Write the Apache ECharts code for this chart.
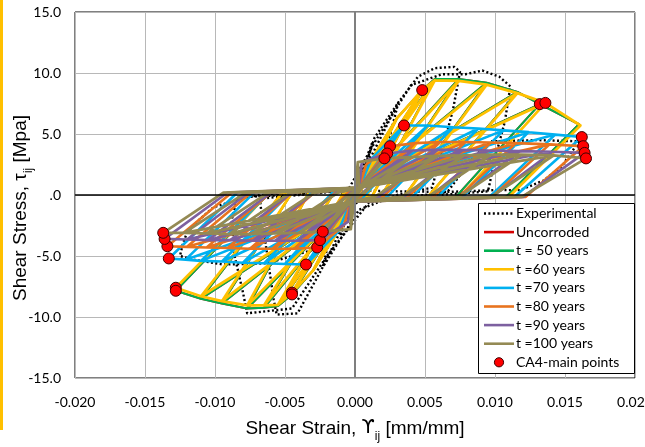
<!DOCTYPE html>
<html>
<head>
<meta charset="utf-8">
<script src="https://cdn.jsdelivr.net/npm/echarts@6/dist/echarts.min.js"></script>
<style>
  html, body { margin: 0; padding: 0; background: #fff; }
  #chart { width: 645px; height: 447px; }
</style>
</head>
<body>
<div id="chart"></div>
<script>
// ---- Axis ticks ----
const strainTicks = [-0.020, -0.015, -0.010, -0.005, 0.000, 0.005, 0.010, 0.015, 0.020];
const stressTicks = [-15, -10, -5, 0, 5, 10, 15];

// ---- Experimental response (strain, stress) ----
const expStrain = [0, 0.0004, 0.0012, 0.0006, -0.0002, -0.0010, -0.0004, 0.0002, 0.0014, 0.0031, 0.0022, 0.0010,
  -0.0002, -0.0023, -0.0015, -0.0002, 0.0010, 0.0031, 0.0045, 0.0057, 0.0071, 0.0075, 0.0070, 0.0062, 0.0055,
  0.0030, 0.0003, -0.0023, -0.0041, -0.0056, -0.0058, -0.0062, -0.0066, -0.0068, -0.0040, -0.0005, 0.0015,
  0.0040, 0.0062, 0.0079, 0.0091, 0.0103, 0.0111, 0.0107, 0.0100, 0.0095, 0.0060, 0.0010, -0.0020, -0.0045,
  -0.0077, -0.0080, -0.0086, -0.0088, -0.0084, -0.0050, -0.0005, 0.0030, 0.0066, 0.0084, 0.0097, 0.0130,
  0.0160, 0.0148, 0.0135, 0.0118, 0.0099, 0.0066, 0.0030, -0.0005, -0.0030, -0.0063, -0.0094, -0.0115,
  -0.0125, -0.0123, -0.0120, -0.0111, -0.0101, -0.0077, -0.0060, -0.0020, 0];
const expStress = [0, 1.8, 4.2, 1.0, -0.6, -3.2, -0.8, 0.6, 4.7, 7.6, 3.5, 0.4,
  -1.0, -5.9, -2.0, 0.3, 2.8, 7.6, 9.7, 10.4, 10.5, 10.1, 7.0, 3.5, 0.6,
  0.0, -1.2, -5.9, -9.7, -9.8, -8.6, -5.5, -2.2, -0.3, 0.0, 0.4, 4.5,
  9.0, 9.9, 9.9, 10.2, 9.7, 8.9, 6.0, 3.0, 0.3, 0.0, -0.6, -5.0, -9.3,
  -9.7, -8.0, -5.0, -2.0, -0.2, 0.0, 0.4, 0.3, 0.25, 3.0, 4.4, 4.5,
  4.4, 2.4, 1.2, 0.4, 0.4, 0.25, -0.3, -0.5, -4.5, -5.6, -5.7, -5.3,
  -5.0, -4.0, -3.1, -2.0, -1.0, -0.15, 0.1, 0.3, 0];

// ---- Model cycles: peak strain/stress per cycle and residual strain after unloading ----
// t = 50 years
const t50PosX = [0.0015, 0.0030, 0.0048, 0.0057, 0.0074, 0.0094, 0.0116, 0.0132, 0.0160];
const t50PosY = [3.5, 6.3, 8.6, 9.5, 9.5, 9.2, 8.45, 7.45, 5.8];
const t50PosRes = [0, 0.0002, 0.0008, 0.0012, 0.0018, 0.0035, 0.0052, 0.0072, 0.0108];
const t50NegX = [-0.0015, -0.0030, -0.0045, -0.0055, -0.0065, -0.0077, -0.0095, -0.0110, -0.0128];
const t50NegY = [-3.5, -6.2, -8.15, -9.1, -9.25, -9.3, -8.9, -8.5, -7.85];
const t50NegRes = [0, -0.0001, -0.0003, -0.0008, -0.0015, -0.0033, -0.0045, -0.0052, -0.0061];
// t = 60 years
const t60PosX = [0.0015, 0.0030, 0.0048, 0.0057, 0.0074, 0.0094, 0.0116, 0.0136, 0.0161];
const t60PosY = [3.5, 6.3, 8.6, 9.4, 9.35, 9.05, 8.35, 7.55, 5.7];
const t60PosRes = [0, 0.0002, 0.0008, 0.0012, 0.0018, 0.0035, 0.0052, 0.0075, 0.0110];
const t60NegX = [-0.0015, -0.0030, -0.0045, -0.0055, -0.0065, -0.0077, -0.0095, -0.0110, -0.0128];
const t60NegY = [-3.5, -6.2, -8.0, -9.0, -9.05, -9.05, -8.7, -8.3, -7.6];
const t60NegRes = [0, -0.0001, -0.0003, -0.0008, -0.0015, -0.0033, -0.0045, -0.0052, -0.0061];
// t = 70 years
const t70PosX = [0.0012, 0.0035, 0.0052, 0.0070, 0.0088, 0.0106, 0.0124, 0.0143, 0.0162];
const t70PosY = [3.0, 5.7, 5.7, 5.55, 5.45, 5.3, 5.15, 4.95, 4.75];
const t70PosRes = [0, 0, 0.0006, 0.0023, 0.0041, 0.0059, 0.0077, 0.0096, 0.0114];
const t70NegX = [-0.0012, -0.0035, -0.0050, -0.0065, -0.0080, -0.0095, -0.0110, -0.0121, -0.0133];
const t70NegY = [-3.0, -5.7, -5.65, -5.6, -5.55, -5.45, -5.4, -5.3, -5.2];
const t70NegRes = [0, -0.0001, -0.0004, -0.0016, -0.0031, -0.0046, -0.0061, -0.0072, -0.0084];
// t = 80 years
const t80PosX = [0.0008, 0.0025, 0.0043, 0.0061, 0.0079, 0.0097, 0.0115, 0.0139, 0.0163];
const t80PosY = [2.5, 4.0, 4.25, 4.35, 4.35, 4.3, 4.25, 4.15, 4.0];
const t80PosRes = [0, 0, 0.0004, 0.0020, 0.0038, 0.0056, 0.0074, 0.0098, 0.0122];
const t80NegX = [-0.0008, -0.0027, -0.0043, -0.0059, -0.0075, -0.0091, -0.0106, -0.0120, -0.0134];
const t80NegY = [-2.5, -4.3, -4.4, -4.4, -4.4, -4.35, -4.3, -4.25, -4.2];
const t80NegRes = [0, -0.0002, -0.0005, -0.0014, -0.0029, -0.0045, -0.0060, -0.0074, -0.0088];
// t = 90 years
const t90PosX = [0.0005, 0.0023, 0.0041, 0.0059, 0.0077, 0.0095, 0.0118, 0.0141, 0.0164];
const t90PosY = [2.7, 3.4, 3.65, 3.7, 3.7, 3.65, 3.6, 3.55, 3.45];
const t90PosRes = [0, 0, 0.0002, 0.0017, 0.0035, 0.0053, 0.0075, 0.0098, 0.0120];
const t90NegX = [-0.0005, -0.0025, -0.0041, -0.0057, -0.0073, -0.0089, -0.0105, -0.0120, -0.0136];
const t90NegY = [-2.2, -3.7, -3.75, -3.75, -3.75, -3.7, -3.7, -3.65, -3.6];
const t90NegRes = [0, -0.0001, -0.0003, -0.0013, -0.0029, -0.0045, -0.0060, -0.0076, -0.0091];
// t = 100 years
const t100PosX = [0.0002, 0.0021, 0.0040, 0.0059, 0.0078, 0.0097, 0.0119, 0.0142, 0.0165];
const t100PosY = [2.7, 3.0, 3.1, 3.2, 3.25, 3.3, 3.3, 3.25, 3.0];
const t100PosRes = [0, 0, 0.0002, 0.0014, 0.0033, 0.0052, 0.0074, 0.0097, 0.0119];
const t100NegX = [-0.0003, -0.0023, -0.0040, -0.0057, -0.0074, -0.0090, -0.0106, -0.0122, -0.0137];
const t100NegY = [-2.8, -3.0, -3.1, -3.15, -3.2, -3.2, -3.15, -3.1, -3.1];
const t100NegRes = [0, -0.0001, -0.0002, -0.0012, -0.0029, -0.0046, -0.0062, -0.0078, -0.0094];

// Pinched path near the origin
const pinchStrain = [-0.0003, 0.0003];
const pinchStress = [-0.15, -0.55, 0.2, 0.6];

// ---- CA4 main points ----
const mainStrain = [0.0048, 0.0035, 0.0025, 0.0023, 0.0021, 0.0132, 0.0136, 0.0162, 0.0163, 0.0164, 0.0165,
  -0.0045, -0.0045, -0.0035, -0.0027, -0.0025, -0.0023, -0.0128, -0.0128, -0.0133, -0.0134, -0.0136, -0.0137];
const mainStress = [8.6, 5.7, 4.0, 3.4, 3.0, 7.45, 7.55, 4.75, 4.0, 3.45, 3.0,
  -8.0, -8.15, -5.7, -4.3, -3.7, -3.0, -7.6, -7.85, -5.2, -4.2, -3.6, -3.1];

// ---- Legend entries ----
const legendNames = ['Experimental', 'Uncorroded', 't = 50 years', 't =60 years', 't =70 years',
  't =80 years', 't =90 years', 't =100 years', 'CA4-main points'];
const seriesColors = ['#000000', '#d40000', '#00b050', '#ffc000', '#00b0f0', '#e8731e', '#7d60a0', '#948a54', '#ff0000'];

// Walk each cycle: reload to the previous peak, push to the new peak, unload,
// slide through the pinched zone, then repeat in the negative direction.
function loopPath(posX, posY, posRes, negX, negY, negRes) {
  const pts = [[0, 0]];
  for (let k = 0; k < posX.length; k++) {
    if (k > 0) pts.push([posX[k - 1], posY[k - 1]]);
    pts.push([posX[k], posY[k]]);
    pts.push([posRes[k], pinchStress[0]]);
    pts.push([pinchStrain[0], pinchStress[1]]);
    if (k > 0) pts.push([negX[k - 1], negY[k - 1]]);
    pts.push([negX[k], negY[k]]);
    pts.push([negRes[k], pinchStress[2]]);
    pts.push([pinchStrain[1], pinchStress[3]]);
  }
  return pts;
}

const expData = expStrain.map((x, i) => [x, expStress[i]]);
const mainData = mainStrain.map((x, i) => [x, mainStress[i]]);

const FONT = 'Lato, "Liberation Sans", sans-serif';
const TITLE_FONT = '"Liberation Sans", Arial, sans-serif';

function lineSeries(idx, width, data) {
  const color = seriesColors[idx];
  return {
    name: legendNames[idx], type: 'line', data, symbol: 'none', showSymbol: false,
    lineStyle: { color, width, join: 'round' }, itemStyle: { color }, z: 3
  };
}

// Legend box drawn as graphic elements
const LEG_X = 478, LEG_Y = 203, LEG_W = 156, LEG_H = 170, ROW0 = 213.5, ROW = 18.6;
const legendGraphics = [{
  type: 'rect', silent: true, z: 100,
  shape: { x: LEG_X + 0.5, y: LEG_Y + 0.5, width: LEG_W, height: LEG_H },
  style: { fill: '#fff', stroke: '#000', lineWidth: 1 }
}];
legendNames.forEach((name, i) => {
  const cy = ROW0 + i * ROW;
  if (i === legendNames.length - 1) {
    legendGraphics.push({ type: 'circle', silent: true, z: 101, shape: { cx: 499, cy, r: 4.6 },
      style: { fill: seriesColors[i], stroke: '#400000', lineWidth: 1 } });
  } else {
    legendGraphics.push({ type: 'line', silent: true, z: 101,
      shape: { x1: 484, y1: cy, x2: 514, y2: cy },
      style: i === 0 ? { stroke: '#000', lineWidth: 2.4, lineDash: [2, 2.4] }
                     : { stroke: seriesColors[i], lineWidth: 2.6 } });
  }
  legendGraphics.push({ type: 'text', silent: true, z: 101, x: 516, y: cy,
    style: { text: name, fontSize: 14, fontFamily: FONT, fill: '#000', verticalAlign: 'middle', align: 'left' } });
});

const richTitle = {
  b: { fontSize: 19, fontFamily: TITLE_FONT, color: '#000', verticalAlign: 'bottom', lineHeight: 24 },
  g: { fontSize: 19, fontFamily: '"DejaVu Sans", sans-serif', color: '#000', verticalAlign: 'bottom', lineHeight: 24 },
  s: { fontSize: 12, fontFamily: TITLE_FONT, color: '#000', verticalAlign: 'bottom', lineHeight: 24, padding: [0, 0, -5, 0] }
};

const chart = echarts.init(document.getElementById('chart'), null, { renderer: 'canvas' });
chart.setOption({
  animation: false,
  backgroundColor: '#fff',
  grid: { left: 75, right: 10, top: 12, bottom: 69, containLabel: false, outerBoundsMode: 'none',
    show: true, borderColor: '#000', borderWidth: 1, backgroundColor: 'transparent' },
  xAxis: {
    type: 'value', min: strainTicks[0], max: strainTicks[strainTicks.length - 1], interval: 0.005,
    axisLine: { show: false }, axisTick: { show: false },
    axisLabel: { fontSize: 14, color: '#000', fontFamily: FONT, margin: 17, showMinLabel: true, showMaxLabel: true,
      hideOverlap: false, formatter: v => v.toFixed(3) },
    splitLine: { lineStyle: { color: '#b8b8b8', width: 1 } },
    name: '{b|Shear Strain, }{g|ϒ}{s|ij}{b| [mm/mm]}', nameLocation: 'middle', nameGap: 36,
    nameTextStyle: { rich: richTitle }
  },
  yAxis: {
    type: 'value', min: stressTicks[0], max: stressTicks[stressTicks.length - 1], interval: 5,
    axisLine: { show: false }, axisTick: { show: false },
    axisLabel: { fontSize: 14, color: '#000', fontFamily: FONT, margin: 14,
      formatter: v => (v === 0 ? '.0' : v.toFixed(1)) },
    splitLine: { lineStyle: { color: '#b8b8b8', width: 1 } },
    name: '{b|Shear Stress, τ}{s|ij}{b| [Mpa]}', nameLocation: 'middle', nameGap: 45, nameRotate: 90,
    nameMoveOverlap: false,
    nameTextStyle: { rich: richTitle, padding: [0, 26, 0, 0] }
  },
  series: [
    {
      name: 'zero lines', type: 'line', data: [], silent: true, z: 2,
      markLine: {
        silent: true, symbol: ['none', 'none'], label: { show: false }, animation: false,
        data: [
          { xAxis: 0, lineStyle: { color: '#7f7f7f', width: 2, type: 'solid' } },
          { yAxis: 0, lineStyle: { color: '#000', width: 1.5, type: 'solid' } }
        ]
      }
    },
    {
      name: legendNames[0], type: 'line', data: expData, symbol: 'none', z: 3,
      lineStyle: { color: '#000', width: 2.4, type: [2, 2.4], join: 'round' }, itemStyle: { color: '#000' }
    },
    lineSeries(1, 2, loopPath(t50PosX, t50PosY, t50PosRes, t50NegX, t50NegY, t50NegRes)),
    lineSeries(2, 2, loopPath(t50PosX, t50PosY, t50PosRes, t50NegX, t50NegY, t50NegRes)),
    lineSeries(3, 2.8, loopPath(t60PosX, t60PosY, t60PosRes, t60NegX, t60NegY, t60NegRes)),
    lineSeries(4, 2.6, loopPath(t70PosX, t70PosY, t70PosRes, t70NegX, t70NegY, t70NegRes)),
    lineSeries(5, 2.6, loopPath(t80PosX, t80PosY, t80PosRes, t80NegX, t80NegY, t80NegRes)),
    lineSeries(6, 2.6, loopPath(t90PosX, t90PosY, t90PosRes, t90NegX, t90NegY, t90NegRes)),
    lineSeries(7, 2.8, loopPath(t100PosX, t100PosY, t100PosRes, t100NegX, t100NegY, t100NegRes)),
    {
      name: legendNames[8], type: 'scatter', data: mainData, symbol: 'circle', symbolSize: 11, z: 5,
      itemStyle: { color: seriesColors[8], borderColor: '#400000', borderWidth: 1, opacity: 1 }
    }
  ],
  graphic: [
    { type: 'rect', left: 0, top: 0, shape: { width: 3, height: 430 }, style: { fill: '#ffc000' }, silent: true }
  ].concat(legendGraphics)
});
</script>
</body>
</html>
